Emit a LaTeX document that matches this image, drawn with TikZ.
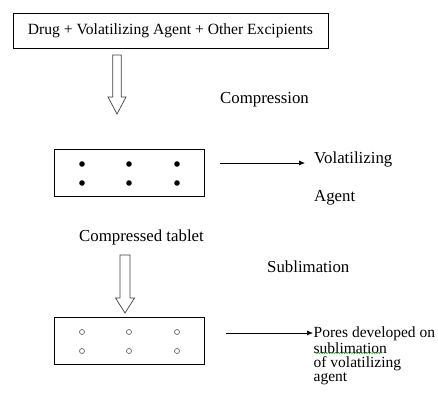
\documentclass[tikz,border=0pt]{standalone}
\usepackage{fontspec}
\setmainfont{Liberation Serif}
\usetikzlibrary{arrows.meta}
\usetikzlibrary{decorations.pathmorphing}

\begin{document}
\begin{tikzpicture}
[x=1pt,y=-1pt,thin,%
  boxDecorate/.style={draw,line width=0.8pt,inner sep=0pt},%
  dotDecorate/.style={shape=circle,fill,inner sep=0pt,minimum size=5.6pt},%
  poreDecorate/.style={shape=circle,draw=black!60,line width=0.7pt,inner sep=0pt,minimum size=5pt},%
  hollowDecorate/.style={draw=black!75,line width=0.7pt,fill=white},%
  lineDecorate/.style={-{Latex[length=6pt,width=5pt]},line width=0.7pt},%
  labelDecorate/.style={anchor=west,inner sep=0pt,font=\fontsize{16.8}{14}\selectfont}]
\useasboundingbox (0,0) rectangle (438,394);
%% boxes
\node[boxDecorate,minimum width=315pt,minimum height=35pt,
  font=\fontsize{15.6}{18}\selectfont] (mix) at (170.5,30.5)
  {Drug + Volatilizing Agent + Other Excipients\hspace{7pt}};
\node[boxDecorate,minimum width=150pt,minimum height=47pt] (tab1) at (129,172.5) {};
\node[boxDecorate,minimum width=150pt,minimum height=47pt] (tab2) at (129,340.5) {};
%% granules and pores
\foreach \x in {82,129,177}
{
  \node[dotDecorate] (dot-\x-a) at (\x,164) {};
  \node[dotDecorate] (dot-\x-b) at (\x,183) {};
  \node[poreDecorate] (pore-\x-a) at (\x,332) {};
  \node[poreDecorate] (pore-\x-b) at (\x,351) {};
}
%% labels
\node[labelDecorate] (comp) at (220,100) {Compression};
\node[labelDecorate] (vol) at (314,159) {Volatilizing};
\node[labelDecorate] (agt) at (314,198) {Agent};
\node[labelDecorate,anchor=center] (ctab) at (141.5,237) {Compressed tablet};
\node[labelDecorate] (subl) at (267,267) {Sublimation};
\node[labelDecorate,anchor=north west,align=left,
  font=\fontsize{15.5}{14}\selectfont] (pores) at (313.5,327)
  {Pores developed on\\ sublimation\\ of volatilizing\\ agent};
\draw[green!60!black,line width=0.4pt,decorate,
  decoration={snake,amplitude=0.6pt,segment length=2.5pt}] (315,353) -- (382,353);
%% hollow process arrows
\foreach \name/\x/\top/\neck/\tip/\sw/\hw in {
  step1/117/55/97/114/4.25/9, step2/125/255/298/313/5/9.5}
{
  \draw[hollowDecorate] (\x-\sw,\top) -- (\x-\sw,\neck) -- (\x-\hw,\neck)
    -- (\x,\tip) coordinate (\name) -- (\x+\hw,\neck) -- (\x+\sw,\neck)
    -- (\x+\sw,\top) -- cycle;
}
%% release arrows
\coordinate (a1) at (220,163);
\coordinate (a2) at (226,333);
\draw[lineDecorate,shorten >=9pt] (a1) -- (vol.west |- a1);
\draw[lineDecorate,shorten >=0.5pt] (a2) -- (pores.north west |- a2);
\end{tikzpicture}
\end{document}
